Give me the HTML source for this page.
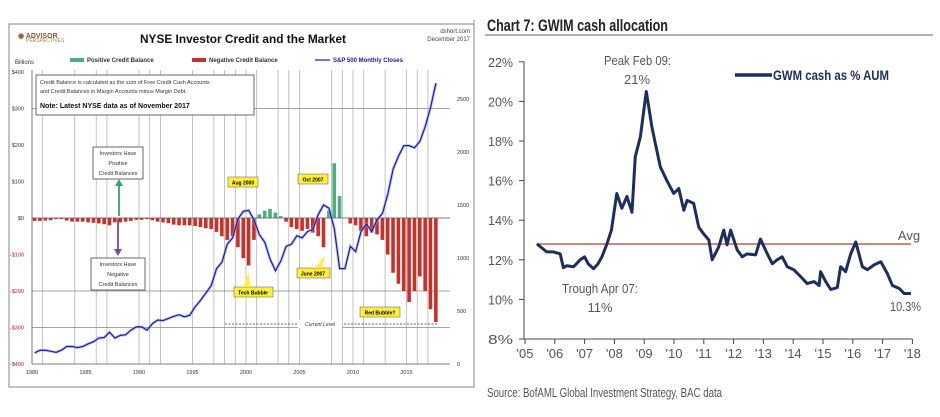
<!DOCTYPE html>
<html><head><meta charset="utf-8"><style>
html,body{margin:0;padding:0;background:#fff;}
svg{display:block;font-family:"Liberation Sans",sans-serif;}
.n{font-family:"Liberation Sans Narrow","Liberation Sans",sans-serif;}
</style></head><body>
<svg id="s" width="940" height="417" viewBox="0 0 940 417" xmlns="http://www.w3.org/2000/svg">
<g id="left">
<rect x="9" y="24" width="465" height="363" fill="#fff" stroke="#999" stroke-width="1.2"/>
<text x="18" y="38" font-size="7" fill="#8a5a2a" font-weight="bold">◉ ADVISOR</text>
<text x="26" y="42" font-size="5" fill="#a08060">PERSPECTIVES</text>
<text x="140" y="43" font-size="12" font-weight="bold" textLength="206" lengthAdjust="spacingAndGlyphs" fill="#111">NYSE Investor Credit and the Market</text>
<text x="470" y="33" font-size="6" text-anchor="end" fill="#444">dshort.com</text>
<text x="470" y="41" font-size="6" text-anchor="end" fill="#444">December 2017</text>
<text x="15" y="64" font-size="6" fill="#333">Billions</text>
<g>
<rect x="70" y="58" width="14" height="4" fill="#4caf7d"/>
<text x="87" y="62" font-size="6" font-weight="bold" fill="#333">Positive Credit Balance</text>
<rect x="192" y="58" width="14" height="4" fill="#c8302a"/>
<text x="209" y="62" font-size="6" font-weight="bold" fill="#333">Negative Credit Balance</text>
<line x1="315" y1="60" x2="330" y2="60" stroke="#1a1aa0" stroke-width="1.2"/>
<text x="333" y="62" font-size="6" font-weight="bold" fill="#1a1aa0">S&amp;P 500 Monthly Closes</text>
</g>
<g id="lgrid"></g><g id="lbars"></g><g id="laxes"></g><g id="lline"></g>
<g>
<rect x="36" y="75" width="218" height="40" fill="#fff" stroke="#444" stroke-width="0.8"/>
<text x="40" y="84" font-size="5.5" fill="#333">Credit Balance is calculated as the sum of Free Credit Cash Accounts</text>
<text x="40" y="93" font-size="5.5" fill="#333">and Credit Balances in Margin Accounts minus Margin Debt.</text>
<text x="40" y="108" font-size="7" font-weight="bold" fill="#111">Note: Latest NYSE data as of November 2017</text>
<rect x="93" y="147" width="50" height="32" fill="#fff" stroke="#444" stroke-width="0.8"/>
<text x="118" y="155" font-size="5.5" text-anchor="middle" fill="#333">Investors Have</text>
<text x="118" y="165" font-size="5.5" text-anchor="middle" fill="#333">Positive</text>
<text x="118" y="175" font-size="5.5" text-anchor="middle" fill="#333">Credit Balances</text>
<line x1="119" y1="216" x2="119" y2="184" stroke="#3aa36a" stroke-width="1.8"/>
<polygon points="115,186 119,179 123,186" fill="#3aa36a"/>
<line x1="118" y1="219" x2="118" y2="251" stroke="#7a4a9a" stroke-width="1.8"/>
<polygon points="114,249 118,256 122,249" fill="#7a4a9a"/>
<rect x="91" y="258" width="54" height="32" fill="#fff" stroke="#444" stroke-width="0.8"/>
<text x="118" y="266" font-size="5.5" text-anchor="middle" fill="#333">Investors Have</text>
<text x="118" y="276" font-size="5.5" text-anchor="middle" fill="#333">Negative</text>
<text x="118" y="286" font-size="5.5" text-anchor="middle" fill="#333">Credit Balances</text>
<rect x="228" y="177" width="30" height="10" fill="#ffef3a" stroke="#555" stroke-width="0.5"/>
<text x="243" y="184.5" font-size="5" text-anchor="middle" font-weight="bold">Aug 2000</text>
<rect x="298" y="174" width="30" height="10" fill="#ffef3a" stroke="#555" stroke-width="0.5"/>
<text x="313" y="181.5" font-size="5" text-anchor="middle" font-weight="bold">Oct 2007</text>
<rect x="234" y="287" width="39" height="10" fill="#ffef3a" stroke="#555" stroke-width="0.5"/>
<text x="253" y="294.5" font-size="5" text-anchor="middle" font-weight="bold">Tech Bubble</text>
<polygon points="243,287 249,272 250,287" fill="#ffef3a"/>
<rect x="297" y="268" width="33" height="10" fill="#ffef3a" stroke="#555" stroke-width="0.5"/>
<text x="313" y="275.5" font-size="5" text-anchor="middle" font-weight="bold">June 2007</text>
<polygon points="315,268 325,255 322,268" fill="#ffef3a"/>
<rect x="360" y="307" width="40" height="10" fill="#ffef3a" stroke="#555" stroke-width="0.5"/>
<text x="380" y="314.5" font-size="5" text-anchor="middle" font-weight="bold">Red Bubble?</text>
<line x1="225" y1="324" x2="438" y2="324" stroke="#333" stroke-width="0.8" stroke-dasharray="2,1.5"/>
<rect x="298" y="320" width="44" height="8" fill="#fff"/>
<text x="320" y="326" font-size="5" text-anchor="middle" font-style="italic" fill="#333">Current Level</text>
</g>
</g>

<g id="right">
<line x1="474" y1="20" x2="474" y2="387" stroke="#999" stroke-width="1"/>
<text x="487" y="31" font-size="17" font-weight="bold" textLength="181" lengthAdjust="spacingAndGlyphs" fill="#222">Chart 7: GWIM cash allocation</text>
<line x1="485" y1="35" x2="933" y2="35" stroke="#888" stroke-width="1.2"/>
<g id="rgrid"></g><g id="rline"></g>
<g>
<text x="604" y="65" font-size="13" textLength="67" lengthAdjust="spacingAndGlyphs" fill="#555">Peak Feb 09:</text>
<text x="637" y="84" font-size="13" text-anchor="middle" fill="#555">21%</text>
<text x="562" y="293" font-size="13" textLength="76" lengthAdjust="spacingAndGlyphs" fill="#555">Trough Apr 07:</text>
<text x="600" y="312" font-size="13" text-anchor="middle" fill="#555">11%</text>
<text x="890" y="311" font-size="13" textLength="31" lengthAdjust="spacingAndGlyphs" fill="#555">10.3%</text>
<text x="909" y="240" font-size="13" text-anchor="middle" fill="#555">Avg</text>
<line x1="735" y1="75" x2="772" y2="75" stroke="#1f2d5c" stroke-width="3.5"/>
<text x="773" y="80" font-size="14" font-weight="bold" textLength="116" lengthAdjust="spacingAndGlyphs" fill="#1f2d5c">GWM cash as % AUM</text>
<text x="487" y="397" font-size="13" textLength="235" lengthAdjust="spacingAndGlyphs" fill="#555">Source: BofAML Global Investment Strategy, BAC data</text>
</g>
</g>
</svg>
<script>
// ---- Left chart data (semiannual, 1980.0 .. 2017.5) ----
const creditYears = [];
for (let y = 1980; y <= 2017; y++) { creditYears.push(y, y + 0.5); }
const creditBalance = [-8,-8,-7,-6,-3,-3,-7,-10,-10,-10,-12,-13,-15,-17,-20,-12,-12,-10,-8,-5,-5,-3,-6,-10,-12,-14,-18,-20,-20,-20,-22,-25,-28,-30,-38,-50,-60,-50,-80,-110,-130,-60,10,20,25,15,5,-10,-25,-30,-35,-30,-40,-50,-80,20,150,60,0,-15,-20,-35,-50,-40,-45,-60,-100,-150,-180,-200,-230,-200,-160,-200,-250,-285];
const sp500 = [105,130,130,120,110,130,165,165,155,165,190,210,245,250,300,245,270,275,320,350,350,320,380,415,410,430,450,465,445,460,540,600,670,740,900,960,1130,1190,1370,1440,1450,1360,1220,1150,990,880,970,1110,1130,1210,1190,1250,1270,1410,1500,1470,1280,900,900,1110,1060,1250,1320,1250,1360,1420,1600,1840,1960,2060,2060,2040,2100,2240,2420,2650];
const leftTicks = [400,300,200,100,0,-100,-200,-300,-400];
const leftTickLabels = ['$400','$300','$200','$100','$0','-$100','-$200','-$300','-$400'];
const rightTicks = [2500,2000,1500,1000,500,0];
const xTickYears = [1980,1985,1990,1995,2000,2005,2010,2015];
const gridYears = [1981,1984,1986,1987,1990,1991,1992,1995,1997,1998,1999,2000,2001,2003,2004,2005,2008,2009,2010,2011,2013,2015,2016,2017];

// ---- Right chart data ----
const cashDates = [2005.4,2005.73,2005.95,2006.18,2006.29,2006.4,2006.63,2006.85,2007.0,2007.12,2007.3,2007.45,2007.58,2007.75,2007.9,2008.08,2008.25,2008.42,2008.59,2008.7,2008.87,2009.07,2009.26,2009.37,2009.54,2009.76,2009.99,2010.16,2010.33,2010.44,2010.66,2010.83,2011.0,2011.17,2011.28,2011.5,2011.67,2011.78,2011.9,2012.12,2012.29,2012.45,2012.74,2012.9,2013.13,2013.3,2013.46,2013.63,2013.8,2014.02,2014.25,2014.47,2014.7,2014.87,2014.92,2015.09,2015.26,2015.48,2015.59,2015.76,2015.93,2016.1,2016.32,2016.49,2016.72,2016.94,2017.16,2017.33,2017.56,2017.72,2017.95];
const cashPct = [12.8,12.4,12.4,12.3,11.6,11.7,11.65,12.0,12.15,11.8,11.55,11.8,12.15,12.8,13.5,15.35,14.6,15.2,14.4,17.2,18.2,20.5,18.7,17.9,16.7,16.0,15.35,15.6,14.5,15.0,14.85,13.65,13.3,13.0,12.0,12.65,13.5,12.75,13.5,12.5,12.15,12.3,12.25,13.05,12.3,11.8,12.0,12.15,11.65,11.5,11.15,10.8,10.9,10.7,11.4,10.9,10.5,10.6,11.65,11.4,12.3,12.9,11.65,11.5,11.75,11.9,11.3,10.7,10.55,10.3,10.3];
const avgPct = [12.8];
const pctTicks = [8,10,12,14,16,18,20,22];
const yearTicks = [2005,2006,2007,2008,2009,2010,2011,2012,2013,2014,2015,2016,2017,2018];

const NS = 'http://www.w3.org/2000/svg';
function mk(tag, attrs, parent) {
  const e = document.createElementNS(NS, tag);
  for (const k in attrs) e.setAttribute(k, attrs[k]);
  parent.appendChild(e); return e;
}
const lx = y => 32 + (y - 1980) * 10.7;
const ly = v => 218 - v * 0.365;
const lyR = v => 364 - v * 0.106;
const lgrid = document.getElementById('lgrid');
gridYears.forEach(y => {
  const l = mk('line', {x1: lx(y), x2: lx(y), y1: 70, y2: 364, stroke: '#aaa', 'stroke-width': 0.7}, lgrid);
  
  
});
[300, -200, -300].forEach(v => {
  const l = mk('line', {x1: 32, x2: 450, y1: ly(v), y2: ly(v), stroke: '#888', 'stroke-width': 0.7}, lgrid);
  
  
});
const lbars = document.getElementById('lbars');
creditBalance.forEach((v, i) => {
  const x = lx(creditYears[i]);
  const r = mk('rect', {x: x + 0.8, width: 3.6, y: Math.min(ly(v), ly(0)), height: Math.abs(ly(v) - ly(0)), fill: v >= 0 ? '#4caf7d' : '#c8302a'}, lbars);
  
  
});
const laxes = document.getElementById('laxes');
mk('line', {x1: 32, x2: 450, y1: ly(0), y2: ly(0), stroke: '#555', 'stroke-width': 0.8}, laxes);
mk('line', {x1: 32, x2: 450, y1: 364, y2: 364, stroke: '#555', 'stroke-width': 0.8}, laxes);
mk('line', {x1: 32, x2: 32, y1: 70, y2: 364, stroke: '#555', 'stroke-width': 0.8}, laxes);
leftTicks.forEach((v, i) => {
  const t = mk('text', {x: 24, y: ly(v) + 2, 'font-size': 5.5, 'text-anchor': 'end', fill: v < 0 ? '#b02020' : '#333'}, laxes);
  t.textContent = leftTickLabels[i];
  
  
});
rightTicks.forEach(v => {
  const t = mk('text', {x: 457, y: lyR(v) + 2, 'font-size': 5.5, fill: '#333'}, laxes);
  t.textContent = v;
  
  
});
xTickYears.forEach(y => {
  const t = mk('text', {x: lx(y), y: 374, 'font-size': 5.5, 'text-anchor': 'middle', fill: '#333'}, laxes);
  t.textContent = y;
  
  
});
const spPts = sp500.map((v, i) => lx(creditYears[i] + 0.25) + ',' + lyR(v)).join(' ');
const glow = mk('polyline', {points: spPts, fill: 'none', stroke: '#9aa8ee', 'stroke-width': 3, opacity: 0.6}, document.getElementById('lline'));


const spl = mk('polyline', {points: spPts, fill: 'none', stroke: '#1a1aa0', 'stroke-width': 1.2}, document.getElementById('lline'));



const rx = y => 525 + (y - 2005) * 29.8;
const ry = v => 339 - (v - 8) * 19.8;
const rgrid = document.getElementById('rgrid');
mk('line', {x1: 524, x2: 524, y1: ry(22), y2: ry(8), stroke: '#444', 'stroke-width': 1}, rgrid);
mk('line', {x1: 524, x2: rx(2018), y1: ry(8), y2: ry(8), stroke: '#444', 'stroke-width': 1}, rgrid);
pctTicks.forEach(v => {
  mk('line', {x1: 519, x2: 524, y1: ry(v), y2: ry(v), stroke: '#444', 'stroke-width': 1}, rgrid);
  const t = mk('text', {x: 513, y: ry(v) + 5, 'font-size': 13, 'text-anchor': 'end', fill: '#555', textLength: 25, lengthAdjust: 'spacingAndGlyphs'}, rgrid);
  t.textContent = v + '%';
  
  
});
yearTicks.forEach(y => {
  mk('line', {x1: rx(y), x2: rx(y), y1: ry(8), y2: ry(8) + 5, stroke: '#444', 'stroke-width': 1}, rgrid);
  const t = mk('text', {x: rx(y), y: 358, 'font-size': 13, 'text-anchor': 'middle', fill: '#555'}, rgrid);
  t.textContent = "'" + String(y).slice(2);
  
  
});
const avg = mk('line', {x1: rx(cashDates[0]), x2: rx(cashDates[cashDates.length - 1]), y1: ry(avgPct[0]), y2: ry(avgPct[0]), stroke: '#b5655a', 'stroke-width': 1.5}, document.getElementById('rline'));


const cl = mk('polyline', {points: cashPct.map((v, i) => rx(cashDates[i]) + ',' + ry(v)).join(' '), fill: 'none', stroke: '#1f2d5c', 'stroke-width': 3, 'stroke-linejoin': 'round'}, document.getElementById('rline'));


</script>
</body></html>
